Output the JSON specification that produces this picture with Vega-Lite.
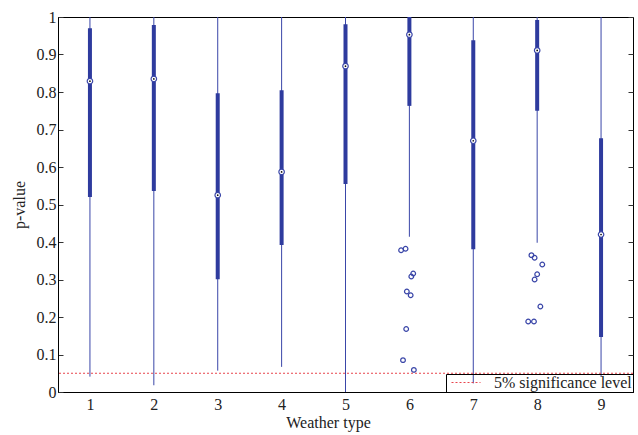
{
  "$schema": "https://vega.github.io/schema/vega-lite/v6.json",
  "width": 575,
  "height": 375,
  "autosize": {"type": "none"},
  "padding": {"left": 58, "top": 17, "right": 5, "bottom": 43},
  "background": "white",
  "config": {
    "font": "Liberation Serif",
    "view": {"stroke": "#000", "strokeWidth": 1},
    "axis": {
      "grid": false,
      "domainColor": "#000",
      "domainWidth": 1,
      "labelFont": "Liberation Serif",
      "labelFontSize": 16,
      "labelColor": "#222",
      "titleFont": "Liberation Serif",
      "titleFontSize": 16,
      "titleFontWeight": "normal",
      "titleColor": "#222",
      "tickColor": "#333",
      "tickWidth": 1
    },
    "legend": {
      "orient": "bottom-right",
      "offset": 0,
      "padding": 1,
      "strokeColor": "#000",
      "fillColor": null,
      "symbolType": "stroke",
      "symbolSize": 840,
      "symbolStrokeWidth": 1,
      "symbolDash": [2, 2],
      "symbolOffset": 4,
      "clipHeight": 15,
      "labelFont": "Liberation Serif",
      "labelFontSize": 16,
      "labelColor": "#222",
      "labelOffset": 13
    }
  },
  "datasets": {
    "boxes": [
      {"type": 1, "lower_whisker": 0.041, "q1": 0.52, "median": 0.829, "q3": 0.97, "upper_whisker": 1.0},
      {"type": 2, "lower_whisker": 0.018, "q1": 0.536, "median": 0.835, "q3": 0.979, "upper_whisker": 1.0},
      {"type": 3, "lower_whisker": 0.057, "q1": 0.301, "median": 0.525, "q3": 0.797, "upper_whisker": 1.0},
      {"type": 4, "lower_whisker": 0.067, "q1": 0.392, "median": 0.587, "q3": 0.805, "upper_whisker": 1.0},
      {"type": 5, "lower_whisker": 0.0, "q1": 0.555, "median": 0.869, "q3": 0.981, "upper_whisker": 1.0},
      {"type": 6, "lower_whisker": 0.414, "q1": 0.763, "median": 0.953, "q3": 1.0, "upper_whisker": 1.0},
      {"type": 7, "lower_whisker": 0.023, "q1": 0.381, "median": 0.67, "q3": 0.938, "upper_whisker": 1.0},
      {"type": 8, "lower_whisker": 0.398, "q1": 0.75, "median": 0.911, "q3": 0.992, "upper_whisker": 1.0},
      {"type": 9, "lower_whisker": 0.04, "q1": 0.147, "median": 0.42, "q3": 0.677, "upper_whisker": 1.0}
    ],
    "outliers": [
      {"type": 5.87, "p": 0.378},
      {"type": 5.94, "p": 0.382},
      {"type": 6.06, "p": 0.316},
      {"type": 6.03, "p": 0.308},
      {"type": 5.96, "p": 0.268},
      {"type": 6.02, "p": 0.258},
      {"type": 5.95, "p": 0.168},
      {"type": 5.9, "p": 0.085},
      {"type": 6.07, "p": 0.059},
      {"type": 7.91, "p": 0.365},
      {"type": 7.96, "p": 0.358},
      {"type": 8.08, "p": 0.34},
      {"type": 8.0, "p": 0.314},
      {"type": 7.96, "p": 0.3},
      {"type": 8.05, "p": 0.228},
      {"type": 7.86, "p": 0.188},
      {"type": 7.95, "p": 0.188}
    ],
    "threshold": [
      {"level": "5% significance level", "p": 0.05}
    ]
  },
  "layer": [
    {
      "data": {"name": "boxes"},
      "mark": {"type": "rule", "color": "#3a46a8", "strokeWidth": 1},
      "encoding": {
        "x": {
          "field": "type",
          "type": "quantitative",
          "scale": {"domain": [0.5, 9.5], "nice": false, "zero": false},
          "axis": {
            "values": [1, 2, 3, 4, 5, 6, 7, 8, 9],
            "format": "d",
            "ticks": false,
            "labelPadding": 4,
            "title": "Weather type",
            "titleX": 270,
            "titleY": 35,
            "titleAlign": "center",
            "titleBaseline": "alphabetic"
          }
        },
        "y": {
          "field": "lower_whisker",
          "type": "quantitative",
          "scale": {"domain": [0, 1], "nice": false},
          "axis": {
            "orient": "left",
            "values": [0, 0.1, 0.2, 0.3, 0.4, 0.5, 0.6, 0.7, 0.8, 0.9, 1],
            "format": "~g",
            "tickSize": -5,
            "labelPadding": 7,
            "title": "p-value",
            "titlePadding": 9
          }
        },
        "y2": {"field": "upper_whisker"}
      }
    },
    {
      "data": {"name": "boxes"},
      "mark": {"type": "rule", "color": "#2e3b9e", "strokeWidth": 4},
      "encoding": {
        "x": {"field": "type", "type": "quantitative"},
        "y": {
          "field": "q1",
          "type": "quantitative",
          "axis": {
            "orient": "right",
            "values": [0, 0.1, 0.2, 0.3, 0.4, 0.5, 0.6, 0.7, 0.8, 0.9, 1],
            "tickSize": -5,
            "labels": false,
            "domain": false,
            "title": null
          }
        },
        "y2": {"field": "q3"}
      }
    },
    {
      "data": {"name": "boxes"},
      "mark": {"type": "point", "shape": "circle", "filled": false, "fill": "white", "fillOpacity": 1, "stroke": "#3a46a8", "strokeWidth": 1.2, "size": 30, "opacity": 1},
      "encoding": {
        "x": {"field": "type", "type": "quantitative"},
        "y": {"field": "median", "type": "quantitative", "axis": null}
      }
    },
    {
      "data": {"name": "boxes"},
      "mark": {"type": "point", "shape": "circle", "filled": true, "color": "#111", "size": 3, "opacity": 1},
      "encoding": {
        "x": {"field": "type", "type": "quantitative"},
        "y": {"field": "median", "type": "quantitative", "axis": null}
      }
    },
    {
      "data": {"name": "outliers"},
      "mark": {"type": "point", "shape": "circle", "filled": false, "stroke": "#3a46a8", "strokeWidth": 1.2, "size": 22, "opacity": 1},
      "encoding": {
        "x": {"field": "type", "type": "quantitative"},
        "y": {"field": "p", "type": "quantitative", "axis": null}
      }
    },
    {
      "data": {"name": "threshold"},
      "mark": {"type": "rule", "strokeWidth": 1, "strokeDash": [2, 2]},
      "encoding": {
        "y": {"field": "p", "type": "quantitative", "axis": null},
        "color": {
          "field": "level",
          "type": "nominal",
          "scale": {"range": ["#e8444c"]},
          "legend": {"title": null}
        }
      }
    }
  ],
  "resolve": {"scale": {"y": "shared"}, "axis": {"y": "independent"}}
}
